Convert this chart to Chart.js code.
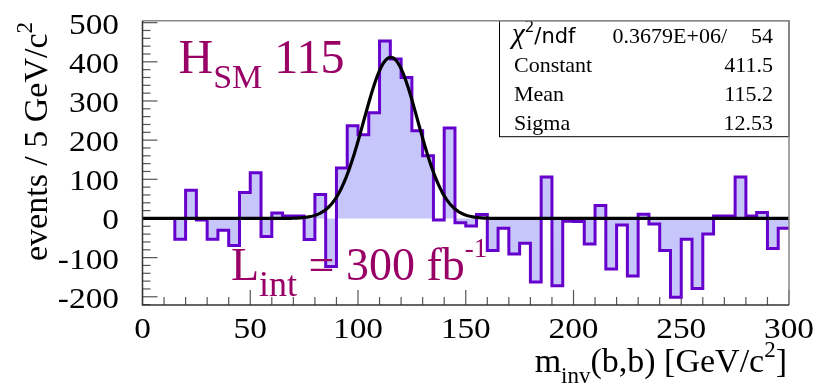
<!DOCTYPE html>
<html>
<head>
<meta charset="utf-8">
<script src="https://cdn.jsdelivr.net/npm/chart.js@4.4.1/dist/chart.umd.min.js"></script>
<style>
html, body { margin: 0; padding: 0; background: #fff; }
#wrap { width: 819px; height: 385px; position: relative; }
</style>
</head>
<body>
<div id="wrap"><canvas id="chart"></canvas></div>
<script>
// 5 GeV bins, low edges
const binLow = [0, 5, 10, 15, 20, 25, 30, 35, 40, 45, 50, 55, 60, 65, 70, 75, 80, 85, 90, 95,
  100, 105, 110, 115, 120, 125, 130, 135, 140, 145, 150, 155, 160, 165, 170, 175, 180, 185, 190, 195,
  200, 205, 210, 215, 220, 225, 230, 235, 240, 245, 250, 255, 260, 265, 270, 275, 280, 285, 290, 295];
const binHigh = 300;

// events / 5 GeV/c^2 (signal after background subtraction)
const events = [0, 0, 0, -53, 72, -4, -53, -30, -69, 66, 117, -46, 14, 6, 6, -54, 61, -123, 129, 237,
  214, 270, 453, 407, 360, 224, 160, -4, 231, -11, -19, 10, -82, -25, -91, -63, -162, 106, -172, -7,
  -8, -65, 33, -129, -17, -147, 11, -14, -82, -201, -53, -179, -40, 6, 6, 106, 6, 15, -77, -25];

// gaussian fit result shown in the stats box
const fitConstant = 411.5;
const fitMean = 115.2;
const fitSigma = 12.53;

const xTickValues = [0, 50, 100, 150, 200, 250, 300];
const xTickLabels = ['0', '50', '100', '150', '200', '250', '300'];
const yTickValues = [-200, -100, 0, 100, 200, 300, 400, 500];
const yTickLabels = ['-200', '-100', '0', '100', '200', '300', '400', '500'];

const statsRows = [
  ['Constant', '411.5'],
  ['Mean', '115.2'],
  ['Sigma', '12.53']
];

const SERIF = '"Liberation Serif", "Times New Roman", serif';
const SANS = '"DejaVu Sans", Arial, sans-serif';
const LABEL_COLOR = 'rgb(153,0,102)';

const histPoints = binLow.map((x, i) => ({ x: x, y: events[i] }));
histPoints.push({ x: binHigh, y: events[events.length - 1] });

const fitPoints = [];
for (let x = 0; x <= 300; x += 0.5) {
  const t = (x - fitMean) / fitSigma;
  fitPoints.push({ x: x, y: fitConstant * Math.exp(-0.5 * t * t) });
}

// draws a run of text pieces (for sub/superscripts), sx = horizontal stretch
function runs(ctx, parts, x, y, align, sx) {
  sx = sx || 1;
  let w = 0;
  parts.forEach(p => { ctx.font = p.font; w += ctx.measureText(p.t).width * sx; });
  let cx = align === 'right' ? x - w : (align === 'center' ? x - w / 2 : x);
  ctx.textAlign = 'left';
  ctx.textBaseline = 'alphabetic';
  parts.forEach(p => {
    ctx.font = p.font;
    ctx.save();
    ctx.translate(cx, y + (p.dy || 0));
    ctx.scale(sx, 1);
    ctx.fillText(p.t, 0, 0);
    ctx.restore();
    cx += ctx.measureText(p.t).width * sx;
  });
  return w;
}

function seg(ctx, x1, y1, x2, y2) {
  ctx.beginPath();
  ctx.moveTo(x1, y1);
  ctx.lineTo(x2, y2);
  ctx.stroke();
}

const rootFrame = {
  id: 'rootFrame',
  beforeDatasetsDraw(chart) {
    // ticks inside the frame, under the histogram and fit
    const ctx = chart.ctx;
    const a = chart.chartArea;
    const xs = chart.scales.x;
    const ys = chart.scales.y;
    ctx.save();
    ctx.lineWidth = 1.2;
    ctx.strokeStyle = '#555';
    for (let v = 0; v <= 300; v += 10) {
      const px = xs.getPixelForValue(v);
      seg(ctx, px, a.bottom, px, a.bottom - (v % 50 === 0 ? 15 : 8));
    }
    for (let v = -220; v <= 500; v += 20) {
      const py = ys.getPixelForValue(v);
      seg(ctx, a.left, py, a.left + (v % 100 === 0 ? 15 : 8), py);
    }
    ctx.restore();
  },
  afterDatasetsDraw(chart) {
    const ctx = chart.ctx;
    const a = chart.chartArea;
    const xs = chart.scales.x;
    const ys = chart.scales.y;
    ctx.save();

    /* stats box */
    const bx = 499.5, by = a.top, bw = a.right - 499.5, bh = 116;
    ctx.fillStyle = '#fff';
    ctx.fillRect(bx, by, bw, bh);
    ctx.strokeStyle = '#000';
    ctx.lineWidth = 1;
    ctx.strokeRect(bx, by, bw, bh);
    ctx.fillStyle = '#000';
    runs(ctx, [
      { t: '\u03c7', font: 'italic 29px ' + SERIF },
      { t: '2', font: '15px ' + SANS, dy: -11 },
      { t: '/ndf', font: '21px ' + SANS }
    ], 512, 43, 'left');
    runs(ctx, [{ t: '0.3679E+06/', font: '22px ' + SERIF }], 727, 43, 'right');
    runs(ctx, [{ t: '54', font: '22px ' + SERIF }], 773, 43, 'right');
    statsRows.forEach((r, i) => {
      const yy = 72 + i * 28.8;
      runs(ctx, [{ t: r[0], font: '22px ' + SERIF }], 514, yy, 'left');
      runs(ctx, [{ t: r[1], font: '22px ' + SERIF }], 773, yy, 'right');
    });

    /* frame */
    ctx.lineWidth = 1.5;
    ctx.strokeStyle = '#888';
    ctx.beginPath();
    ctx.moveTo(a.left, a.top);
    ctx.lineTo(a.right, a.top);
    ctx.lineTo(a.right, a.bottom);
    ctx.stroke();
    ctx.strokeStyle = '#333';
    ctx.beginPath();
    ctx.moveTo(a.left, a.top);
    ctx.lineTo(a.left, a.bottom);
    ctx.lineTo(a.right, a.bottom);
    ctx.stroke();

    /* tick labels */
    ctx.fillStyle = '#000';
    xTickValues.forEach((v, i) => {
      runs(ctx, [{ t: xTickLabels[i], font: '29px ' + SERIF }], xs.getPixelForValue(v), 338, 'center', 1.15);
    });
    yTickValues.forEach((v, i) => {
      runs(ctx, [{ t: yTickLabels[i], font: '29px ' + SERIF }], 119, ys.getPixelForValue(v) + 11, 'right', 1.15);
    });

    /* axis titles */
    runs(ctx, [
      { t: 'm', font: '34px ' + SERIF },
      { t: 'inv', font: '23px ' + SERIF, dy: 11 },
      { t: '(b,b) [GeV/c', font: '34px ' + SERIF },
      { t: '2', font: '23px ' + SERIF, dy: -15 },
      { t: ']', font: '34px ' + SERIF }
    ], 787, 372, 'right');

    ctx.save();
    ctx.translate(47, 261);
    ctx.rotate(-Math.PI / 2);
    runs(ctx, [
      { t: 'events / 5 GeV/c', font: '34px ' + SERIF },
      { t: '2', font: '23px ' + SERIF, dy: -15 }
    ], 0, 0, 'left');
    ctx.restore();

    /* labels in the plot */
    ctx.fillStyle = LABEL_COLOR;
    runs(ctx, [
      { t: 'H', font: '48px ' + SERIF },
      { t: 'SM', font: '34px ' + SERIF, dy: 15.6 },
      { t: ' 115', font: '48px ' + SERIF }
    ], 178.5, 72.7, 'left');
    runs(ctx, [
      { t: 'L', font: '46px ' + SERIF },
      { t: 'int', font: '36px ' + SERIF, dy: 16 },
      { t: ' = 300 fb', font: '46px ' + SERIF },
      { t: '-1', font: '27px ' + SERIF, dy: -23 }
    ], 231, 279.5, 'left');

    ctx.restore();
  }
};

new Chart(document.getElementById('chart'), {
  type: 'line',
  data: {
    datasets: [
      {
        label: 'signal',
        data: histPoints,
        stepped: true,
        borderColor: '#6600cc',
        borderWidth: 3,
        backgroundColor: '#c6c6fb',
        fill: 'origin',
        pointRadius: 0,
        borderJoinStyle: 'miter',
        order: 2
      },
      {
        label: 'fit',
        data: fitPoints,
        borderColor: '#000',
        borderWidth: 3.2,
        fill: false,
        pointRadius: 0,
        tension: 0,
        order: 1
      }
    ]
  },
  options: {
    responsive: true,
    maintainAspectRatio: false,
    animation: false,
    devicePixelRatio: 1,
    layout: { padding: { top: 20.7, right: 30, left: 0, bottom: 0 } },
    plugins: {
      legend: { display: false },
      tooltip: { enabled: false }
    },
    scales: {
      x: {
        type: 'linear',
        min: 0,
        max: 300,
        ticks: { display: false, stepSize: 50, includeBounds: false },
        grid: { display: false },
        border: { display: false },
        afterFit: s => { s.height = 80; }
      },
      y: {
        min: -221,
        max: 505,
        ticks: { display: false, stepSize: 100, includeBounds: false },
        grid: { display: false },
        border: { display: false },
        afterFit: s => { s.width = 142.5; }
      }
    }
  },
  plugins: [rootFrame]
});
</script>
</body>
</html>
